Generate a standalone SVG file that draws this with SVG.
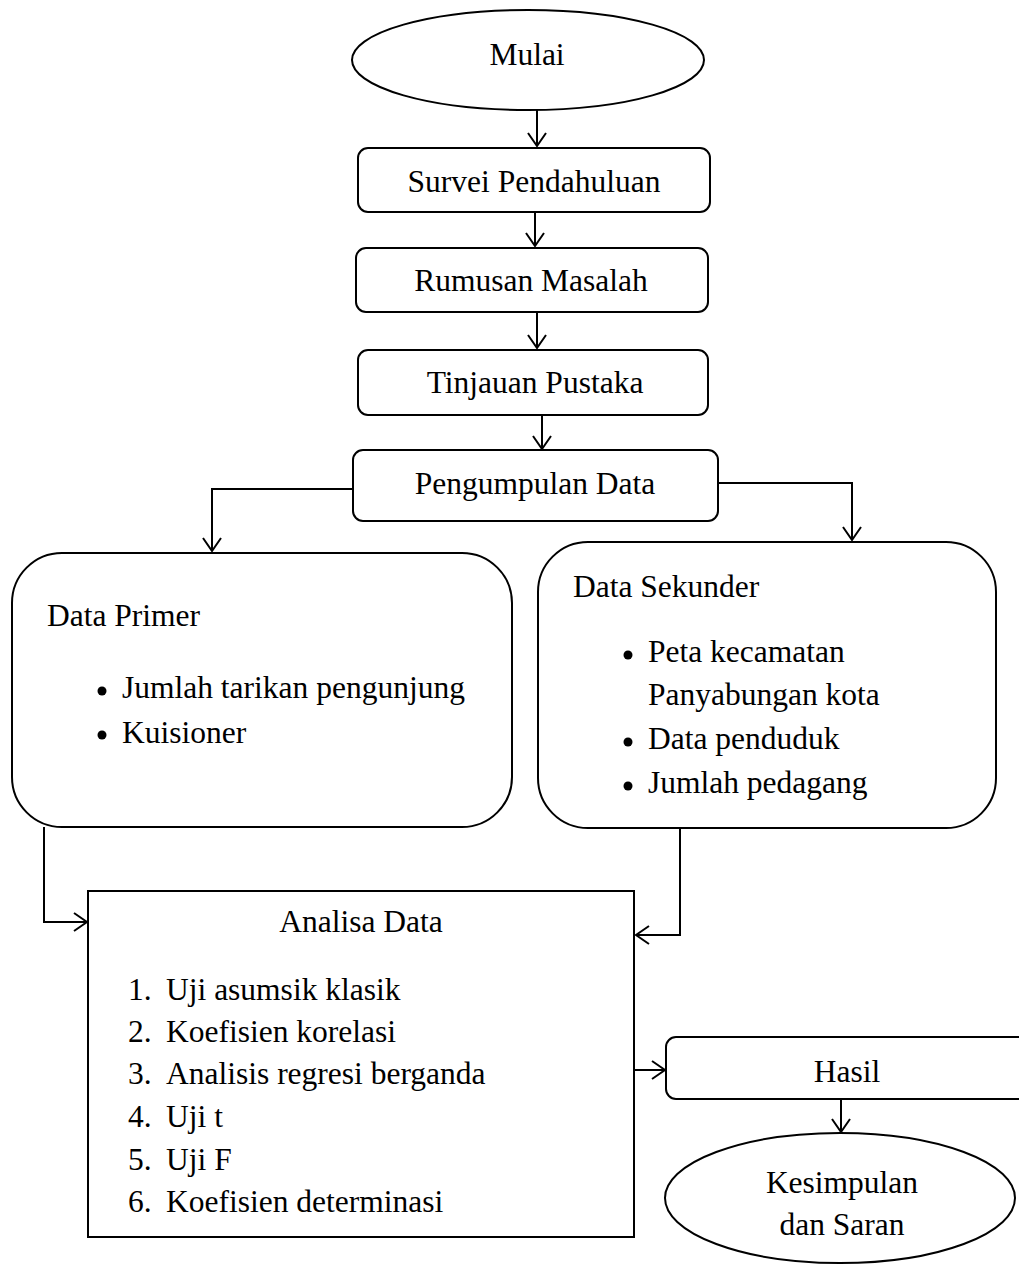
<svg xmlns="http://www.w3.org/2000/svg" width="1019" height="1264" viewBox="0 0 1019 1264">
<style>
.s{fill:#fff;stroke:#000;stroke-width:2}
.t{font-family:"Liberation Serif","Times New Roman",serif;font-size:31.5px;fill:#000}
.c{text-anchor:middle}
.l{fill:none;stroke:#000;stroke-width:2}
</style>
<defs>
<marker id="a" markerUnits="userSpaceOnUse" markerWidth="20" markerHeight="24" refX="0" refY="0" viewBox="-15 -12 17 24" orient="auto">
<path d="M-13,-9 L0,0 L-13,9" fill="none" stroke="#000" stroke-width="2"/>
</marker>
</defs>
<rect width="1019" height="1264" fill="#fff"/>
<g id="connectors">
<path class="l" d="M537,110 V146" marker-end="url(#a)"/>
<path class="l" d="M535,212 V246" marker-end="url(#a)"/>
<path class="l" d="M537,312 V348" marker-end="url(#a)"/>
<path class="l" d="M542,415 V449" marker-end="url(#a)"/>
<path class="l" d="M353,489 H212 V551" marker-end="url(#a)"/>
<path class="l" d="M718,483 H852 V540" marker-end="url(#a)"/>
<path class="l" d="M44,827 V922 H87" marker-end="url(#a)"/>
<path class="l" d="M680,828 V935 H636" marker-end="url(#a)"/>
<path class="l" d="M634,1070 H665" marker-end="url(#a)"/>
<path class="l" d="M841,1099 V1132" marker-end="url(#a)"/>
</g>
<g id="mulai">
<ellipse class="s" cx="528" cy="60" rx="176" ry="50"/>
<text class="t c" x="527" y="65">Mulai</text>
</g>
<g id="survei">
<rect class="s" x="358" y="148" width="352" height="64" rx="10"/>
<text class="t c" x="534" y="192">Survei Pendahuluan</text>
</g>
<g id="rumusan">
<rect class="s" x="356" y="248" width="352" height="64" rx="10"/>
<text class="t c" x="531" y="291">Rumusan Masalah</text>
</g>
<g id="tinjauan">
<rect class="s" x="358" y="350" width="350" height="65" rx="10"/>
<text class="t c" x="535" y="393">Tinjauan Pustaka</text>
</g>
<g id="pengumpulan">
<rect class="s" x="353" y="450" width="365" height="71" rx="10"/>
<text class="t c" x="535" y="494">Pengumpulan Data</text>
</g>
<g id="primer">
<rect class="s" x="12" y="553" width="500" height="274" rx="50"/>
<text class="t" x="47" y="626">Data Primer</text>
<circle cx="102" cy="691" r="4.5"/>
<text class="t" x="122" y="698">Jumlah tarikan pengunjung</text>
<circle cx="102" cy="735" r="4.5"/>
<text class="t" x="122" y="743">Kuisioner</text>
</g>
<g id="sekunder">
<rect class="s" x="538" y="542" width="458" height="286" rx="50"/>
<text class="t" x="573" y="597">Data Sekunder</text>
<circle cx="628" cy="655" r="4.5"/>
<text class="t" x="648" y="662">Peta kecamatan</text>
<text class="t" x="648" y="705">Panyabungan kota</text>
<circle cx="628" cy="742" r="4.5"/>
<text class="t" x="648" y="749">Data penduduk</text>
<circle cx="628" cy="786" r="4.5"/>
<text class="t" x="648" y="793">Jumlah pedagang</text>
</g>
<g id="analisa">
<rect class="s" x="88" y="891" width="546" height="346"/>
<text class="t c" x="361" y="932">Analisa Data</text>
<text class="t" x="128" y="1000">1.</text><text class="t" x="166" y="1000">Uji asumsik klasik</text>
<text class="t" x="128" y="1042">2.</text><text class="t" x="166" y="1042">Koefisien korelasi</text>
<text class="t" x="128" y="1084">3.</text><text class="t" x="166" y="1084">Analisis regresi berganda</text>
<text class="t" x="128" y="1127">4.</text><text class="t" x="166" y="1127">Uji t</text>
<text class="t" x="128" y="1170">5.</text><text class="t" x="166" y="1170">Uji F</text>
<text class="t" x="128" y="1212">6.</text><text class="t" x="166" y="1212">Koefisien determinasi</text>
</g>
<g id="hasil">
<rect class="s" x="666" y="1037" width="370" height="62" rx="10"/>
<text class="t c" x="847" y="1082">Hasil</text>
</g>
<g id="kesimpulan">
<ellipse class="s" cx="840" cy="1198" rx="175" ry="65"/>
<text class="t c" x="842" y="1193">Kesimpulan</text>
<text class="t c" x="842" y="1235">dan Saran</text>
</g>
</svg>
